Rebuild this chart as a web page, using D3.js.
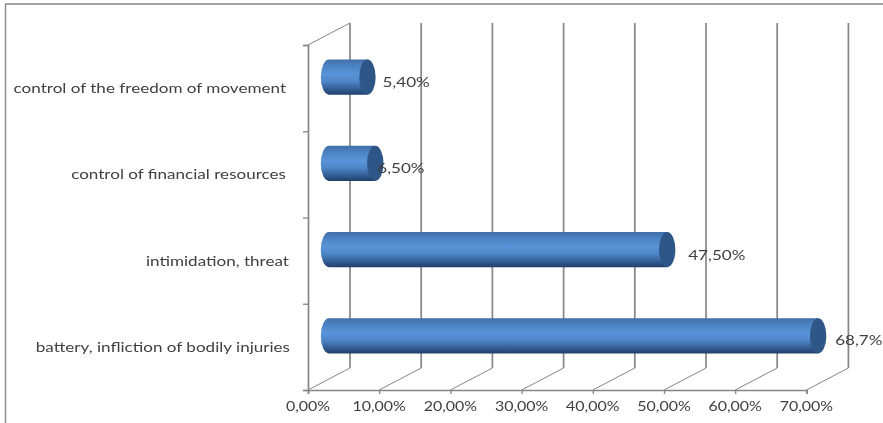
<!DOCTYPE html>
<html><head><meta charset="utf-8">
<script src="https://cdn.jsdelivr.net/npm/d3@7/dist/d3.min.js"></script>
<style>
html,body{margin:0;padding:0;background:#fff}
svg{display:block}
text{font-family:Lato,"Open Sans",sans-serif;fill:#404040;font-size:14px}
</style></head><body>
<svg id="c" width="883" height="423"></svg>
<script>
const categories = ["battery, infliction of bodily injuries","intimidation, threat","control of financial resources","control of the freedom of movement"];
const values = [68.7,47.5,6.5,5.4];
const valueLabels = ["68,7%","47,50%","6,50%","5,40%"];
const xTicks = [0,10,20,30,40,50,60,70];

const svg = d3.select("#c");
const defs = svg.append("defs");
defs.append("filter").attr("id","soft").attr("filterUnits","userSpaceOnUse").attr("x",0).attr("y",0).attr("width",883).attr("height",423)
  .append("feGaussianBlur").attr("stdDeviation",0.55);
const grad = defs.append("linearGradient").attr("id","bar").attr("x1",0).attr("y1",0).attr("x2",0).attr("y2",1);
[[0,"#416fa8"],[0.15,"#4a80bf"],[0.42,"#5a94d9"],[0.62,"#4f86c8"],[0.85,"#325c92"],[1,"#203f68"]]
  .forEach(([o,c])=>grad.append("stop").attr("offset",o).attr("stop-color",c));

const root = svg.append("g").attr("filter","url(#soft)");
// outer frame
root.append("line").attr("x1",5.5).attr("x2",5.5).attr("y1",4).attr("y2",423).attr("stroke","#8f8f8f").attr("stroke-width",1.5);
root.append("line").attr("x1",5).attr("x2",883).attr("y1",4).attr("y2",4).attr("stroke","#858585").attr("stroke-width",1.5);

const x = d3.scaleLinear().domain([0,70]).range([308,806.4]);
const yEdge = d3.scaleLinear().domain([0,4]).range([390,45]);
const y = d3.scaleBand().domain(categories).range([390,45]);
const dx = 42, dy = -22, gridCol = "#858585";

// back wall gridlines and floor diagonals
const grid = root.append("g").attr("stroke",gridCol).attr("fill","none");
grid.selectAll(".v").data(xTicks).join("line").attr("stroke-width",1.7)
  .attr("x1",d=>x(d)+dx).attr("x2",d=>x(d)+dx).attr("y1",yEdge(4)+dy).attr("y2",yEdge(0)+dy);
grid.selectAll(".d").data(xTicks).join("line").attr("stroke-width",1)
  .attr("x1",d=>x(d)).attr("x2",d=>x(d)+dx).attr("y1",yEdge(0)).attr("y2",yEdge(0)+dy);
grid.append("line").attr("stroke-width",1)
  .attr("x1",x(0)).attr("x2",x(0)+dx).attr("y1",yEdge(4)).attr("y2",yEdge(4)+dy);

// axes
const xAxis = root.append("g").attr("transform",`translate(0,${yEdge(0)})`)
  .call(d3.axisBottom(x).tickValues(xTicks).tickSize(4).tickFormat(""));
const yAxis = root.append("g").attr("transform",`translate(${x(0)},0)`)
  .call(d3.axisLeft(yEdge).tickValues([0,1,2,3,4]).tickSize(5).tickFormat(""));
[xAxis,yAxis].forEach(a=>{a.selectAll("path").attr("stroke",gridCol).attr("stroke-width",1.7);
  a.selectAll("line").attr("stroke",gridCol).attr("stroke-width",1.3);});

// cylinders
const rx = 8.2, ry = 17.6, midX = dx/2, midY = dy/2;
const bars = root.append("g").selectAll("g").data(categories).join("g");
bars.append("path").attr("fill","url(#bar)").attr("d",(c,i)=>{
  const l = x(0)+midX, r = x(values[i])+midX, m = y(c)+y.bandwidth()/2+midY;
  return `M${l},${m-ry}L${r},${m-ry}L${r},${m+ry}L${l},${m+ry}A${rx},${ry} 0 0 1 ${l},${m-ry}Z`;
});
bars.append("ellipse").attr("fill","#2f5787")
  .attr("cx",(c,i)=>x(values[i])+midX).attr("cy",c=>y(c)+y.bandwidth()/2+midY)
  .attr("rx",rx).attr("ry",ry);

function stretched(sel,tx,ty,hs){
  sel.attr("transform",(d,i)=>`translate(${tx(d,i)},${ty(d,i)}) scale(${hs},1)`);
}
// category labels
root.append("g").selectAll("text").data(categories).join("text")
  .attr("text-anchor","end").text(d=>d)
  .call(stretched,(d,i)=>[290,289,286,286][i],d=>y(d)+y.bandwidth()/2+5,1.22);
// value labels
root.append("g").selectAll("text").data(valueLabels).join("text")
  .attr("text-anchor","start").text(d=>d)
  .call(stretched,(d,i)=>x(values[i])+midX+[17,21,2,15][i],(d,i)=>y(categories[i])+y.bandwidth()/2+midY+[9,10,10,10][i],1.22);
// x tick labels
const fmt = d3.formatLocale({decimal:",",thousands:".",grouping:[3],currency:["",""]}).format(".2f");
root.append("g").selectAll("text").data(xTicks).join("text")
  .attr("text-anchor","middle").text(d=>fmt(d)+"%")
  .call(stretched,d=>x(d),()=>411,1.14);
</script></body></html>
